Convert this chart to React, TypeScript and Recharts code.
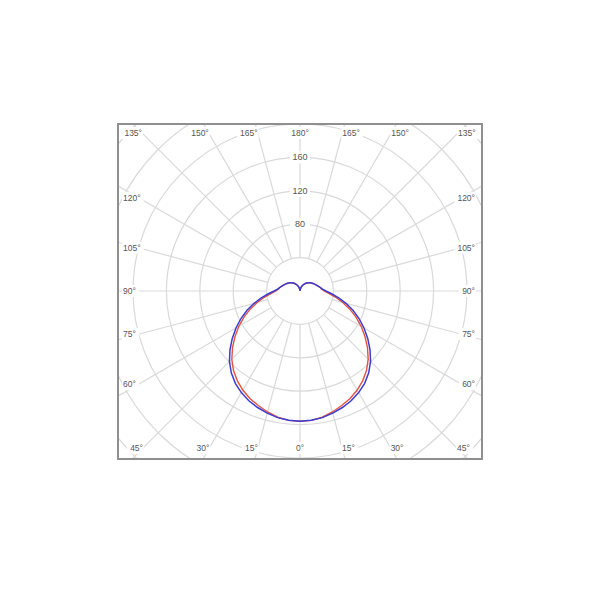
import React from "react";
import {
  RadarChart,
  Radar,
  PolarGrid,
  PolarAngleAxis,
  PolarRadiusAxis,
} from "recharts";

// gamma angle in degrees, 0 = straight down, 180 = straight up
const gammaAngles = [
  0, 5, 10, 15, 20, 25, 30, 35, 40, 45, 50, 55, 60, 65, 70, 75, 80, 85, 90,
  95, 100, 105, 110, 115, 120, 125, 130, 135, 140, 145, 150, 155, 160, 165,
  170, 175, 180,
];

// red curve
const planeC0C180 = [
  156, 155.5, 153.5, 150, 146, 142, 137, 131, 124, 115.5, 105.5, 95, 84.5, 74,
  63.5, 53, 43.5, 35, 29, 26, 24.5, 22.5, 20.8, 19.3, 18, 16.8, 15.5, 14, 12.5,
  11, 9.3, 7.6, 5.8, 4.2, 2.6, 1.2, 0,
];

// blue curve
const planeC90C270 = [
  156, 155.5, 154, 151.5, 148.5, 145, 140.5, 135, 128, 119.5, 109.5, 99, 88.5,
  78, 67.5, 57, 47, 38, 31, 27, 24.5, 22.5, 20.8, 19.3, 18, 16.8, 15.5, 14,
  12.5, 11, 9.3, 7.6, 5.8, 4.2, 2.6, 1.2, 0,
];

const radiusTicks = [40, 80, 120, 160, 200, 240, 280];
const radiusLabels = [80, 120, 160];
const spokeAngles = [
  0, 15, 30, 45, 60, 75, 90, 105, 120, 135, 150, 165, 180, 195, 210, 225, 240,
  255, 270, 285, 300, 315, 330, 345,
];

// one full turn, second half of the turn mirrors the first
const data: { angle: number; red: number; blue: number }[] = [];
for (let i = 0; i < 72; i++) {
  const deg = i * 5;
  const g = deg <= 180 ? deg : 360 - deg;
  const idx = gammaAngles.indexOf(g);
  data.push({ angle: deg, red: planeC0C180[idx], blue: planeC90C270[idx] });
}

const W = 362;
const H = 333;
const CX = 181;
const CY = 166;
const FONT = "'Liberation Sans', Arial, sans-serif";

function AngleTick(props: any) {
  const { x, y, payload } = props;
  const v = Number(payload.value);
  if (v % 15 !== 0) return <g />;
  const dx = x - CX;
  const dy = y - CY;
  const len = Math.hypot(dx, dy) || 1;
  const ux = dx / len;
  const uy = dy / len;
  const tx = Math.abs(ux) > 1e-6 ? 170 / Math.abs(ux) : Infinity;
  const ty = Math.abs(uy) > 1e-6 ? 158 / Math.abs(uy) : Infinity;
  const gamma = v <= 180 ? v : 360 - v;
  const label = `${gamma}°`;
  const w = label.length * 4.4 + 2;
  let lx: number;
  let ly: number;
  let anchor: "start" | "middle" | "end";
  if (ty <= tx) {
    // top / bottom edge
    ly = uy < 0 ? CY - 158 : CY + 157;
    lx = CX + (ux * (ly - CY)) / uy;
    if (Math.abs(ux) < 1e-3) anchor = "middle";
    else anchor = ux < 0 ? "end" : "start";
  } else {
    // left / right edge
    lx = ux < 0 ? CX - 177 : CX + 175;
    ly = CY + ((uy * 170) / Math.abs(ux)) * 0.95;
    anchor = ux < 0 ? "start" : "end";
  }
  const rx = anchor === "start" ? lx : anchor === "end" ? lx - w : lx - w / 2;
  return (
    <g>
      <rect x={rx - 1} y={ly - 6} width={w + 2} height={12} fill="#fff" />
      <text
        x={lx}
        y={ly}
        textAnchor={anchor}
        dominantBaseline="central"
        fontSize={8.5}
        fontFamily={FONT}
        fill="#555"
      >
        {label}
      </text>
    </g>
  );
}

function RadiusTick(props: any) {
  const { x, y, payload } = props;
  if (!radiusLabels.includes(payload.value)) return <g />;
  return (
    <g>
      <rect x={x - 10} y={y - 6} width={20} height={12} fill="#fff" />
      <text
        x={x}
        y={y}
        textAnchor="middle"
        dominantBaseline="central"
        fontSize={9}
        fontFamily={FONT}
        fill="#555"
      >
        {payload.value}
      </text>
    </g>
  );
}

export default function App() {
  return (
    <div
      style={{
        position: "absolute",
        left: 117,
        top: 123,
        width: W,
        height: H,
        border: "2px solid #8f8f8f",
        overflow: "hidden",
        background: "#fff",
      }}
    >
      <RadarChart
        width={W}
        height={H}
        data={data}
        cx={CX}
        cy={CY}
        innerRadius={33.4}
        outerRadius={250.5}
        startAngle={-90}
        endAngle={-450}
        margin={{ top: 0, right: 0, bottom: 0, left: 0 }}
      >
        <PolarGrid
          gridType="circle"
          polarAngles={spokeAngles}
          stroke="#d9d9d9"
          strokeWidth={1.2}
        />
        <Radar
          dataKey="red"
          stroke="#e5533f"
          strokeWidth={1.4}
          fill="none"
          fillOpacity={0}
          dot={false}
          isAnimationActive={false}
        />
        <Radar
          dataKey="blue"
          stroke="#3c3cd2"
          strokeWidth={1.5}
          fill="none"
          fillOpacity={0}
          dot={false}
          isAnimationActive={false}
        />
        <PolarAngleAxis
          dataKey="angle"
          axisLine={false}
          tickLine={false}
          tick={AngleTick}
        />
        <PolarRadiusAxis
          type="number"
          angle={90}
          domain={[40, 300]}
          allowDataOverflow
          ticks={radiusTicks}
          axisLine={false}
          tickLine={false}
          tick={RadiusTick}
        />
      </RadarChart>
    </div>
  );
}
